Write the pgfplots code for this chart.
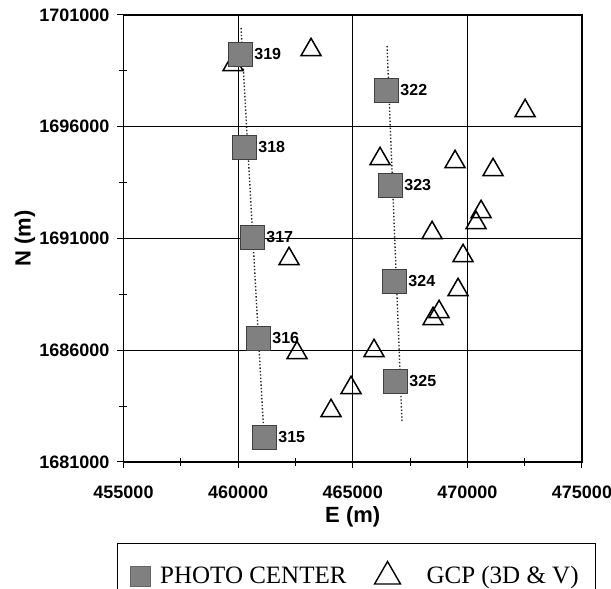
\documentclass[border=0pt]{standalone}
\usepackage{pgfplots}
\pgfplotsset{compat=1.18}
\usepackage{fontspec}
\setmainfont{Liberation Sans}
\newfontfamily\seriffont{Liberation Serif}
\begin{document}
\begin{tikzpicture}
\begin{axis}[
  at={(0,0)}, anchor=south west,
  scale only axis, width=229.25pt, height=223.5pt,
  xmin=455000, xmax=475000, ymin=1681000, ymax=1701000,
  xtick={455000,460000,...,475000},
  ytick={1681000,1686000,...,1701000},
  minor x tick num=1, minor y tick num=1,
  grid=major, major grid style={black, line width=0.6pt},
  axis line style={line width=0.9pt},
  tick align=center, major tick length=6pt, minor tick length=4pt,
  tick style={black, line width=0.5pt},
  xtick pos=left, ytick pos=left,
  scaled ticks=false,
  /pgf/number format/fixed,
  /pgf/number format/set thousands separator={},
  /pgf/number format/assume math mode=true,
  tick label style={font=\bfseries\fontsize{9}{10}\selectfont},
  xticklabel style={yshift=-5.5pt},
  yticklabel style={xshift=-0.5pt},
  xlabel={E (m)},
  ylabel={N (m)},
  xlabel style={at={(axis description cs:0.5,-0.123)}, anchor=center, font=\bfseries\fontsize{11}{12}\selectfont},
  ylabel style={at={(axis description cs:-0.215,0.5)}, anchor=center, font=\bfseries\fontsize{11}{12}\selectfont},
  legend style={at={(axis description cs:0.508,-0.181)}, anchor=north,
    legend columns=2, draw=black, line width=0.6pt,
    font=\seriffont\fontsize{12.5}{14}\selectfont,
    inner xsep=6.5pt, inner ysep=9pt,
    /tikz/every odd column/.append style={column sep=3pt},
    /tikz/every even column/.append style={column sep=12pt}},
]
% flight lines
\addplot[black!85, densely dotted, line width=0.7pt, forget plot] coordinates {(460127,1700418) (461130,1682120)};
\addplot[black!85, densely dotted, line width=0.7pt, forget plot] coordinates {(466497,1699613) (467151,1682746)};
% GCPs
\addplot[only marks, mark=triangle, mark size=5.8pt, mark options={black, line width=0.75pt}, forget plot] table {
E N
463181 1699438
459778 1698767
472518 1696709
466191 1694562
469463 1694427
471121 1694070
470598 1692190
470380 1691698
468460 1691251
462221 1690088
469812 1690222
469594 1688701
468765 1687716
468504 1687403
462570 1685882
465929 1685972
464926 1684316
464053 1683287
};
% photo centers
\addplot[only marks, mark=square*, mark size=6pt,
  mark options={fill=black!50, draw=black!75, line width=0.4pt},
  nodes near coords, point meta=explicit symbolic,
  every node near coord/.append style={anchor=west, xshift=6pt, inner sep=1pt, text=black, font=\bfseries\fontsize{8}{9}\selectfont},
  forget plot] table[meta=label] {
E N label
460083 1699255 319
460257 1695094 318
460607 1691068 317
460868 1686549 316
461130 1682120 315
466453 1697644 322
466627 1693394 323
466802 1689099 324
466846 1684625 325
};
\addlegendimage{only marks, mark=square*, mark size=5pt, mark options={fill=black!50, draw=black!60, line width=0.4pt}}
\addlegendentry{PHOTO CENTER}
\addlegendimage{only marks, mark=triangle, mark size=7.5pt, mark options={black, line width=0.7pt}}
\addlegendentry{\hspace{8pt}GCP (3D \& V)\hspace{-4.5pt}}
\end{axis}
\pgfresetboundingbox
\path[use as bounding box] (-61.75pt,-63.5pt) rectangle (243.75pt,231pt);
\end{tikzpicture}
\end{document}
